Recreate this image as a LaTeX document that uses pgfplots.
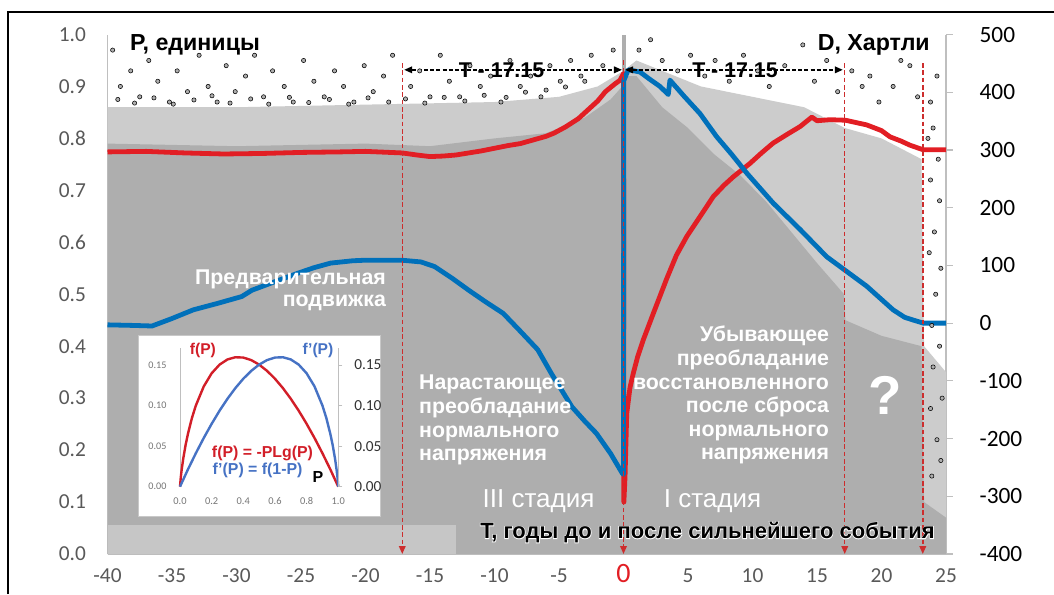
\documentclass[border=0pt]{standalone}
\usepackage{pgfplots}
\usepackage{pgfplotstable}
\pgfplotsset{compat=1.18}
\usepackage{fontspec}
\setmainfont{Liberation Sans}
\newfontfamily\calibri{Carlito}
\newfontface\halofont{Liberation Sans Bold}[FakeBold=6]
\usetikzlibrary{arrows.meta}

\definecolor{scA}{RGB}{174,174,174}
\definecolor{scB}{RGB}{204,204,204}
\definecolor{scC}{RGB}{198,198,198}
\definecolor{pred}{RGB}{226,30,36}
\definecolor{pblue}{RGB}{0,112,186}
\definecolor{dred}{RGB}{205,45,45}
\definecolor{ired}{RGB}{210,30,40}
\definecolor{iblue}{RGB}{70,114,196}
\definecolor{tickgray}{RGB}{89,89,89}
\definecolor{axgray}{RGB}{191,191,191}
\definecolor{insetlbl}{RGB}{118,118,118}
\definecolor{insetlblr}{RGB}{50,50,50}
\definecolor{boxgray}{RGB}{200,200,200}

\pgfplotstableread{
T H
-40 -3
-38 -4
-36.55 -5
-35 8
-33.35 23
-31.5 34
-29.6 46
-28.8 57
-27 72
-25.3 86
-24 96
-22.7 104
-21 108
-20 109
-18 109
-17.2 109
-15.7 106
-14.65 98
-13.3 78
-12 57
-10.7 37
-9.33 17
-8 -14
-6.65 -46
-5.6 -87
-4.8 -116
-4 -145
-3 -170
-2.1 -191
-1 -226
-0.1 -260
0 -262
0.02 420
0.37 439
1.28 435
2 423
2.83 410
3.47 396
3.6 421
4.7 393
5.93 363
7.22 323
8.4 292
9.55 260
11.6 208
13.7 162
15.75 115
17.15 92
18.85 64
20.9 23
21.8 10
22.5 5
23.24 0
25 0
}\bluedata

\pgfplotstableread{
T P
-40 0.774
-37 0.775
-34 0.772
-31 0.770
-28 0.771
-25 0.773
-22 0.774
-20 0.775
-17.15 0.772
-16 0.768
-15 0.765
-14 0.766
-13 0.768
-12 0.772
-11 0.776
-10 0.781
-9 0.786
-8 0.790
-7 0.797
-6 0.804
-5.4 0.810
-4.5 0.822
-3.5 0.838
-2.75 0.855
-2 0.872
-1.4 0.890
-0.66 0.905
-0.27 0.912
0 0.925
0.03 0.100
0.12 0.150
0.25 0.270
0.5 0.320
0.76 0.348
1.1 0.380
1.53 0.412
2.31 0.463
3.35 0.530
4.1 0.575
4.9 0.611
6 0.652
6.96 0.688
7.8 0.710
8.51 0.726
9.81 0.752
10.7 0.772
11.6 0.791
12.7 0.808
13.7 0.823
14.6 0.841
15.0 0.834
16 0.836
17.2 0.835
18.85 0.826
20 0.815
20.66 0.803
21.5 0.795
22.2 0.787
23.24 0.778
25 0.778
}\reddata

\begin{document}
\begin{tikzpicture}[x=1pt,y=1pt]
\useasboundingbox (0,0) rectangle (790.5,445.5);
\fill[white] (0,0) rectangle (790.5,445.5);
\draw[black, line width=1.5pt] (6,0) -- (6,436.2) -- (790.5,436.2);

% right axis (Hartley)
\begin{axis}[
  at={(80.625pt,30pt)}, anchor=south west, scale only axis,
  width=628.875pt, height=389.625pt,
  xmin=-40, xmax=25, ymin=-400, ymax=500,
  axis x line=none, axis y line*=right,
  axis line style={draw=axgray, line width=0.9pt, -},
  ytick={-400,-300,-200,-100,0,100,200,300,400,500},
  yticklabels={-400,-300,-200,-100,0,100,200,300,400,500},
  tick align=outside, major tick length=5pt,
  ytick style={draw=axgray, line width=0.9pt},
  yticklabel style={font=\calibri\fontsize{17.5}{17.5}\selectfont, text=black, anchor=west, inner sep=0pt, xshift=20pt},
]
\addplot[draw=none] coordinates {(0,0)};
\end{axis}

% main axis
\begin{axis}[
  at={(80.625pt,30pt)}, anchor=south west, scale only axis,
  width=628.875pt, height=389.625pt,
  xmin=-40, xmax=25, ymin=0, ymax=1,
  clip=false,
  axis x line*=bottom, axis y line*=left,
  axis line style={draw=axgray, line width=0.9pt, -},
  xtick={-40,-35,-30,-25,-20,-15,-10,-5,0,5,10,15,20,25},
  xticklabels={-40,-35,-30,-25,-20,-15,-10,-5,{\textcolor{pred}{\fontsize{21}{21}\selectfont 0}},5,10,15,20,25},
  minor x tick num=4,
  tick align=inside,
  major tick length=5.5pt, minor tick length=3.5pt,
  xtick style={draw=axgray, line width=0.8pt},
  minor x tick style={draw=axgray, line width=0.8pt},
  xticklabel style={font=\calibri\fontsize{16}{16}\selectfont, text=tickgray, anchor=base, inner sep=0pt, yshift=-21pt},
  ytick={0,0.1,0.2,0.3,0.4,0.5,0.6,0.7,0.8,0.9,1},
  yticklabels={0.0,0.1,0.2,0.3,0.4,0.5,0.6,0.7,0.8,0.9,1.0},
  ytick style={draw=none},
  yticklabel style={font=\calibri\fontsize{16}{16}\selectfont, text=tickgray, anchor=east, inner sep=0pt, xshift=-16pt},
]
% scatter background: speckled zone
\addplot[fill=scB, draw=none] coordinates {(-40,0.86) (-30,0.86) (-20,0.865) (-10,0.87) (-5,0.88) (-2,0.90) (0,0.93) (1,0.95) (3,0.93) (6,0.90) (10,0.88) (14,0.86) (17.15,0.82) (20,0.80) (23.1,0.76) (23.3,0.40) (25,0.35)} \closedcycle;
% dense zone
\addplot[fill=scA, draw=none] coordinates {(-40,0.79) (-30,0.785) (-20,0.79) (-15,0.785) (-10,0.80) (-6,0.81) (-3,0.84) (-1,0.875) (-0.1,0.90) (0.1,0.92) (1,0.92) (2,0.89) (3,0.86) (5,0.82) (7,0.77) (9,0.73) (11,0.68) (13,0.62) (15,0.56) (17.1,0.50) (17.2,0.45) (20,0.42) (23.1,0.40) (23.3,0.10) (25,0.07)} \closedcycle;
\addplot[fill=scC, draw=none] coordinates {(-40,0.055) (-13,0.055)} \closedcycle;
\addplot[scA, line width=3pt] coordinates {(0,0.6) (0,1.0)};
% sparse points
\addplot[only marks, mark=*, mark size=1.6pt, mark options={draw=none, fill=scA}] coordinates {
(-39.6,0.97) (-39,0.90) (-38.2,0.93) (-37.5,0.88) (-36.8,0.95) (-36.1,0.91) (-35.2,0.87) (-34.6,0.93) (-33.8,0.89) (-32.9,0.96) (-32.2,0.90) (-31.5,0.87) (-30.8,0.94) (-30.1,0.89) (-29.3,0.92) (-28.6,0.96) (-27.9,0.88) (-27.2,0.93) (-26.3,0.90) (-25.6,0.87) (-24.8,0.95) (-24.0,0.91) (-23.2,0.88) (-22.4,0.93) (-21.7,0.90) (-20.9,0.87) (-20.1,0.94) (-19.4,0.89) (-18.6,0.92) (-17.9,0.96) (-16.5,0.90) (-15.8,0.93) (-15.0,0.88) (-14.2,0.96) (-13.5,0.91) (-12.7,0.88) (-11.9,0.94) (-11.1,0.90) (-10.3,0.92) (-9.5,0.87) (-8.8,0.95) (-8.0,0.90) (-7.2,0.92) (-6.4,0.88) (-5.7,0.94) (-4.9,0.91) (-4.1,0.95) (-3.3,0.92) (-2.5,0.96) (-1.6,0.94) (-0.8,0.97)
(-39.2,0.875) (-37.9,0.868) (-36.4,0.878) (-34.9,0.866) (-33.3,0.874) (-31.9,0.882) (-30.5,0.868) (-28.9,0.876) (-27.5,0.866) (-25.9,0.879) (-24.4,0.869) (-22.8,0.875) (-21.3,0.866) (-19.8,0.878) (-18.2,0.87) (-16.9,0.876) (-15.4,0.868) (-13.9,0.879) (-12.3,0.872) (-10.8,0.883) (-9.1,0.879) (-7.6,0.889) (-6.0,0.893) (-4.5,0.899) (-3.0,0.91)
(1.2,0.97) (2.1,0.99) (3.0,0.95) (4.2,0.93) (5.2,0.96) (6.3,0.92) (7.1,0.95) (8.2,0.91) (9.3,0.96) (10.4,0.93) (11.3,0.90) (12.5,0.94) (13.9,0.98) (14.8,0.91) (15.75,0.95) (16.6,0.89) (17.7,0.93) (18.5,0.90) (19.1,0.92) (19.8,0.87) (20.9,0.90) (21.5,0.95) (22.2,0.94) (22.8,0.88) (23.8,0.87) (24.3,0.92)
(23.6,0.80) (24.0,0.82) (24.4,0.76) (23.8,0.72) (24.5,0.68) (24.1,0.62) (23.7,0.58) (24.6,0.55) (24.2,0.50) (23.9,0.44) (24.5,0.40) (24.0,0.36) (24.7,0.30) (23.8,0.28) (24.3,0.22) (24.6,0.18) (23.9,0.15)
};
% curves
\addplot[pred, line width=3.6pt, line join=round] table[x=T, y=P] {\reddata};
\addplot[pblue, line width=3.6pt, line join=round] table[x=T, y expr=(\thisrow{H}+400)/900] {\bluedata};
% dashed vertical lines
\addplot[dred, line width=1.1pt, dash pattern=on 3.5pt off 2pt, -{Triangle[length=6pt,width=5pt]}] coordinates {(-17.15,0.945) (-17.15,0)};
\addplot[dred, line width=1.1pt, dash pattern=on 3.5pt off 2pt, -{Triangle[length=6pt,width=5pt]}] coordinates {(0,0.95) (0,0)};
\addplot[dred, line width=1.1pt, dash pattern=on 3.5pt off 2pt, -{Triangle[length=6pt,width=5pt]}] coordinates {(17.15,0.945) (17.15,0)};
\addplot[dred, line width=1.1pt, dash pattern=on 3.5pt off 2pt, -{Triangle[length=6pt,width=5pt]}] coordinates {(23.2,0.945) (23.2,0)};
% T arrows
\addplot[black, line width=1.1pt, dash pattern=on 3pt off 1.6pt, {Triangle[length=6pt,width=5pt]}-{Triangle[length=6pt,width=5pt]}] coordinates {(-17.0,0.932) (-0.12,0.932)};
\addplot[black, line width=1.1pt, dash pattern=on 3pt off 1.6pt, {Triangle[length=6pt,width=5pt]}-{Triangle[length=6pt,width=5pt]}] coordinates {(0.12,0.932) (17.0,0.932)};

% texts
\node[anchor=base west, inner sep=0pt, font=\bfseries\fontsize{17.4}{17.4}\selectfont] at (axis cs:-38.26,0.969) {P, единицы};
\node[anchor=base east, inner sep=0pt, font=\bfseries\fontsize{17.4}{17.4}\selectfont] at (axis cs:23.76,0.969) {D, Хартли};
\node[anchor=center, inner sep=0pt, font=\bfseries\fontsize{16}{16}\selectfont] at (axis cs:-9.46,0.932) {T - 17.15};
\node[anchor=center, inner sep=0pt, font=\bfseries\fontsize{16}{16}\selectfont] at (axis cs:8.64,0.932) {T - 17.15};

\node[anchor=base east, inner sep=0pt, text=white, font=\bfseries\fontsize{16}{16}\selectfont] at (axis cs:-18.4,0.518) {Предварительная};
\node[anchor=base east, inner sep=0pt, text=white, font=\bfseries\fontsize{16}{16}\selectfont] at (axis cs:-18.4,0.476) {подвижка};

\node[anchor=base west, inner sep=0pt, text=white, font=\bfseries\fontsize{16}{16}\selectfont] at (axis cs:-15.86,0.3157) {Нарастающее};
\node[anchor=base west, inner sep=0pt, text=white, font=\bfseries\fontsize{16}{16}\selectfont] at (axis cs:-15.86,0.2695) {преобладание};
\node[anchor=base west, inner sep=0pt, text=white, font=\bfseries\fontsize{16}{16}\selectfont] at (axis cs:-15.86,0.2246) {нормального};
\node[anchor=base west, inner sep=0pt, text=white, font=\bfseries\fontsize{16}{16}\selectfont] at (axis cs:-15.86,0.1797) {напряжения};

\node[anchor=base east, inner sep=0pt, text=white, font=\bfseries\fontsize{16}{16}\selectfont] at (axis cs:15.95,0.409) {Убывающее};
\node[anchor=base east, inner sep=0pt, text=white, font=\bfseries\fontsize{16}{16}\selectfont] at (axis cs:15.95,0.362) {преобладание};
\node[anchor=base east, inner sep=0pt, text=white, font=\bfseries\fontsize{16}{16}\selectfont] at (axis cs:15.95,0.317) {восстановленного};
\node[anchor=base east, inner sep=0pt, text=white, font=\bfseries\fontsize{16}{16}\selectfont] at (axis cs:15.95,0.272) {после сброса};
\node[anchor=base east, inner sep=0pt, text=white, font=\bfseries\fontsize{16}{16}\selectfont] at (axis cs:15.95,0.227) {нормального};
\node[anchor=base east, inner sep=0pt, text=white, font=\bfseries\fontsize{16}{16}\selectfont] at (axis cs:15.95,0.182) {напряжения};

\node[anchor=center, inner sep=0pt, text=white, font=\bfseries\fontsize{41}{41}\selectfont] at (axis cs:20.3,0.306) {?};

\node[anchor=base, inner sep=0pt, text=white, font=\fontsize{19.5}{19.5}\selectfont] at (axis cs:-6.59,0.09) {III стадия};
\node[anchor=base, inner sep=0pt, text=white, font=\fontsize{19.5}{19.5}\selectfont] at (axis cs:6.90,0.09) {I стадия};

\coordinate (tlab) at (axis cs:24.15,0.03);
\end{axis}

\node[anchor=base east, inner sep=0pt, text=white, font=\halofont\fontsize{16.5}{16.5}\selectfont] at (tlab) {T, годы до и после сильнейшего события};
\node[anchor=base east, inner sep=0pt, text=black, font=\bfseries\fontsize{16.5}{16.5}\selectfont] at (tlab) {T, годы до и после сильнейшего события};

% inset
\filldraw[fill=white, draw=boxgray, line width=0.75pt] (103.5,58.5) rectangle (285,194.25);

\begin{axis}[
  at={(135pt,80.5pt)}, anchor=south west, scale only axis,
  width=118.7pt, height=104pt,
  xmin=0, xmax=1, ymin=0, ymax=0.171,
  clip=false,
  axis x line*=bottom, axis y line*=left,
  x axis line style={draw=none},
  y axis line style={draw=axgray, line width=0.6pt, -},
  xtick={0,0.2,0.4,0.6,0.8,1}, xticklabels={0.0,0.2,0.4,0.6,0.8,1.0},
  ytick={0,0.05,0.1,0.15}, yticklabels={0.00,0.05,0.10,0.15},
  tick style={draw=none},
  xticklabel style={font=\calibri\fontsize{7.8}{8}\selectfont, text=insetlbl, anchor=center, inner sep=0pt, yshift=-11pt},
  yticklabel style={font=\calibri\fontsize{7.6}{8}\selectfont, text=insetlbl, anchor=east, inner sep=0pt, xshift=-10pt},
]
\addplot[ired, line width=1.8pt] coordinates {(0,0) (0.005,0.0115) (0.01,0.02) (0.02,0.034) (0.035,0.051) (0.05,0.065) (0.075,0.0844) (0.1,0.1) (0.15,0.1236) (0.2,0.1398) (0.25,0.1505) (0.3,0.1569) (0.35,0.1596) (0.4,0.1592) (0.45,0.1561) (0.5,0.1505) (0.55,0.1428) (0.6,0.1331) (0.65,0.1216) (0.7,0.1084) (0.75,0.0937) (0.8,0.0775) (0.85,0.0600) (0.9,0.0412) (0.95,0.0212) (1,0)};
\addplot[iblue, line width=1.8pt] coordinates {(0,0) (0.05,0.0212) (0.1,0.0412) (0.15,0.06) (0.2,0.0775) (0.25,0.0937) (0.3,0.1084) (0.35,0.1216) (0.4,0.1331) (0.45,0.1428) (0.5,0.1505) (0.55,0.1561) (0.6,0.1592) (0.65,0.1596) (0.7,0.1569) (0.75,0.1505) (0.8,0.1398) (0.85,0.1236) (0.9,0.1) (0.925,0.0844) (0.95,0.065) (0.965,0.051) (0.98,0.034) (0.99,0.02) (0.995,0.0115) (1,0)};
\node[anchor=center, inner sep=0pt, text=ired, font=\bfseries\fontsize{11.7}{11.7}\selectfont] at (axis cs:0.145,0.1685) {f(P)};
\node[anchor=center, inner sep=0pt, text=iblue, font=\bfseries\fontsize{11.7}{11.7}\selectfont] at (axis cs:0.872,0.1685) {f’(P)};
\node[anchor=center, inner sep=0pt, text=ired, font=\bfseries\fontsize{11.9}{11.9}\selectfont] at (axis cs:0.521,0.0415) {f(P) = -PLg(P)};
\node[anchor=center, inner sep=0pt, text=iblue, font=\bfseries\fontsize{11.9}{11.9}\selectfont] at (axis cs:0.49,0.0206) {f’(P) = f(1-P)};
\node[anchor=center, inner sep=0pt, text=black, font=\bfseries\fontsize{12}{12}\selectfont] at (axis cs:0.872,0.012) {P};
\end{axis}

\begin{axis}[
  at={(135pt,80.5pt)}, anchor=south west, scale only axis,
  width=118.7pt, height=104pt,
  xmin=0, xmax=1, ymin=0, ymax=0.171,
  axis x line=none, axis y line*=right,
  y axis line style={draw=axgray, line width=0.6pt, -},
  ytick={0,0.05,0.1,0.15}, yticklabels={0.00,0.05,0.10,0.15},
  tick align=outside, major tick length=3pt,
  ytick style={draw=axgray, line width=0.6pt},
  yticklabel style={font=\calibri\fontsize{11.5}{12}\selectfont, text=insetlblr, anchor=west, inner sep=0pt, xshift=8.8pt},
]
\addplot[draw=none] coordinates {(0.5,0.05)};
\end{axis}
\end{tikzpicture}
\end{document}
